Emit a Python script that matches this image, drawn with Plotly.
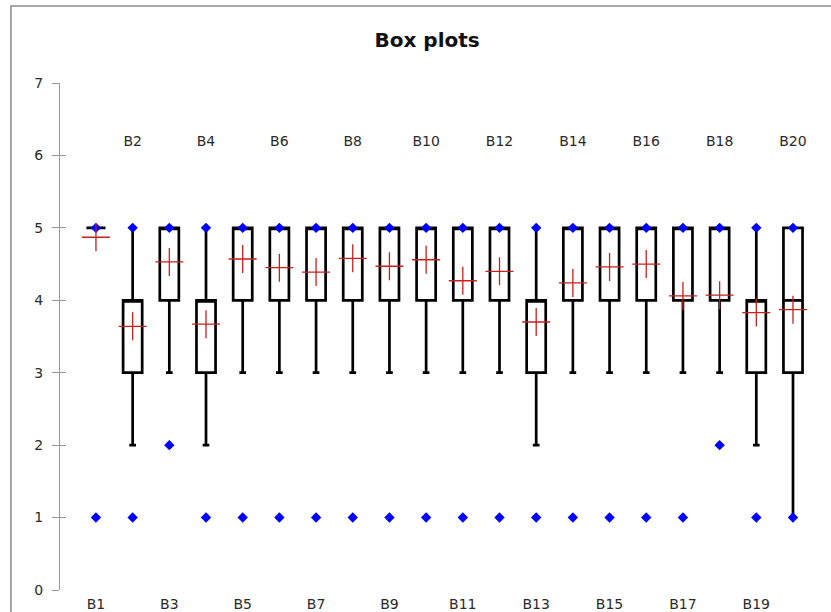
import plotly.graph_objects as go

categories = [f"B{i}" for i in range(1, 21)]
q1 = [5, 3, 4, 3, 4, 4, 4, 4, 4, 4, 4, 4, 3, 4, 4, 4, 4, 4, 3, 3]
q3 = [5, 4, 5, 4, 5, 5, 5, 5, 5, 5, 5, 5, 4, 5, 5, 5, 5, 5, 4, 5]
medians = [5, 4, 5, 4, 5, 5, 5, 5, 5, 5, 5, 5, 4, 5, 5, 5, 5, 5, 4, 4]
lower_whisker = [5, 2, 3, 2, 3, 3, 3, 3, 3, 3, 3, 3, 2, 3, 3, 3, 3, 3, 2, 1]
upper_whisker = [5] * 20
means = [4.87, 3.64, 4.53, 3.67, 4.57, 4.45, 4.39, 4.58, 4.47, 4.56,
         4.27, 4.40, 3.70, 4.24, 4.46, 4.50, 4.06, 4.07, 3.83, 3.87]
mins = [1, 1, 2, 1, 1, 1, 1, 1, 1, 1, 1, 1, 1, 1, 1, 1, 1, 2, 1, 1]
maxs = [5] * 20
y_ticks = [0, 1, 2, 3, 4, 5, 6, 7]
top_label_y = 6.18

xpos = list(range(1, len(categories) + 1))
font = "DejaVu Sans, sans-serif"
txt = "#2a2a2a"

fig = go.Figure()
fig.add_trace(go.Box(
    x=xpos, q1=q1, median=medians, q3=q3,
    lowerfence=lower_whisker, upperfence=upper_whisker,
    boxpoints=False, width=0.52, whiskerwidth=0.35,
    line=dict(color="black", width=2.7), fillcolor="rgba(255,255,255,0)",
    showlegend=False, hoverinfo="skip",
))
fig.add_trace(go.Scatter(
    x=xpos, y=mins, mode="markers",
    marker=dict(symbol="diamond", size=8, color="#0000FF"),
    showlegend=False, hoverinfo="skip",
))
fig.add_trace(go.Scatter(
    x=xpos, y=maxs, mode="markers",
    marker=dict(symbol="diamond", size=8, color="#0000FF"),
    showlegend=False, hoverinfo="skip",
))
fig.add_trace(go.Scatter(
    x=xpos, y=means, mode="markers",
    marker=dict(symbol="cross-thin", size=20, color="#C82020",
                line=dict(color="#C82020", width=1.3)),
    showlegend=False, hoverinfo="skip",
))
even_x = [x for x in xpos if x % 2 == 0]
fig.add_trace(go.Scatter(
    x=even_x, y=[top_label_y] * len(even_x), mode="text",
    text=[categories[x - 1] for x in even_x],
    textfont=dict(family=font, size=14, color=txt),
    showlegend=False, hoverinfo="skip", cliponaxis=False,
))
fig.add_trace(go.Scatter(x=[None], y=[None], yaxis="y2", showlegend=False,
                         hoverinfo="skip"))

odd_x = [x for x in xpos if x % 2 == 1]
fig.update_layout(
    width=831, height=612,
    margin=dict(l=60, r=16, t=83, b=22, autoexpand=False),
    paper_bgcolor="white", plot_bgcolor="white",
    title=dict(text="<b>Box plots</b>", x=0.514, xanchor="center",
               y=0.935, yanchor="middle",
               font=dict(family=font, size=20, color="#111111")),
    xaxis=dict(range=[0.02, 20.6], showgrid=False, zeroline=False,
               showline=False, tickmode="array", tickvals=odd_x,
               ticktext=[categories[x - 1] for x in odd_x], automargin=False,
               ticks="", ticklabelstandoff=4,
               tickfont=dict(family=font, size=14, color=txt)),
    yaxis=dict(range=[0, 7], tickvals=y_ticks, showgrid=False, zeroline=False,
               showline=True, linecolor="#999999", linewidth=1.3,
               ticks="outside", ticklen=7, tickcolor="#999999", tickwidth=1.2,
               ticklabelstandoff=6, automargin=False,
               tickfont=dict(family=font, size=14, color=txt)),
    yaxis2=dict(range=[0, 7], tickvals=y_ticks, overlaying="y", side="left",
                anchor="x", showgrid=False, zeroline=False, showline=False,
                automargin=False, ticks="inside", ticklen=6,
                tickcolor="#999999", tickwidth=1.2, showticklabels=False),
)
fig.add_shape(type="rect", xref="paper", yref="paper",
              x0=-0.065, x1=1.08, y0=-0.1, y1=1.152,
              line=dict(color="#8a8a8a", width=1.5), layer="below")
fig.write_html("out.html", config={"displayModeBar": False},
               post_script="document.body.style.margin='0';document.body.style.padding='0';")
